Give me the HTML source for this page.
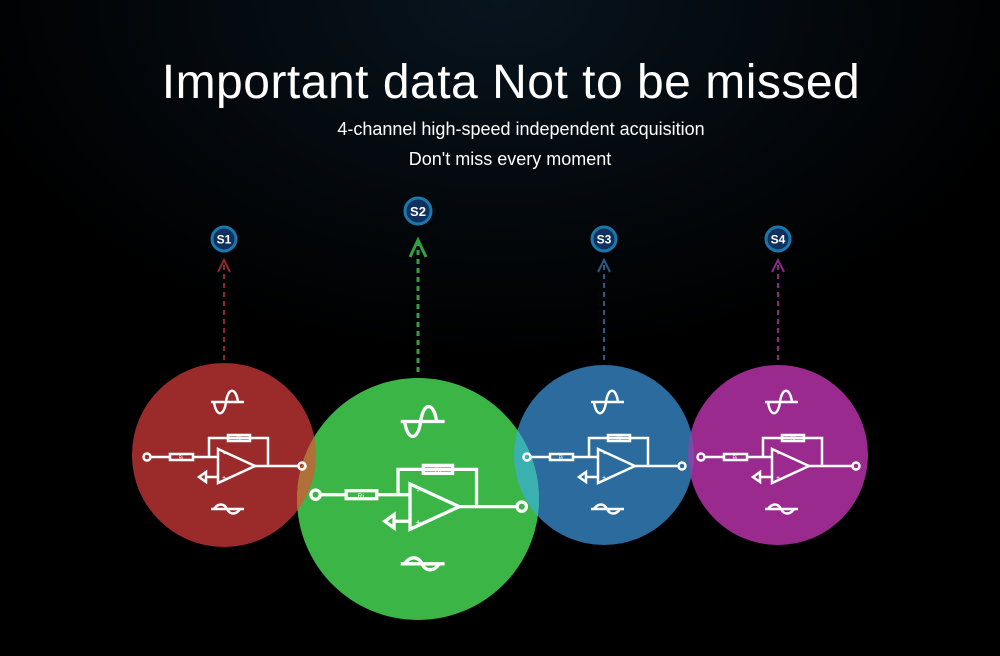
<!DOCTYPE html>
<html><head><style>
body{margin:0;background:#000;width:1000px;height:651px;overflow:hidden;font-family:"Liberation Sans",sans-serif;}
</style></head><body>
<svg width="1000" height="651" viewBox="0 0 1000 651" xmlns="http://www.w3.org/2000/svg">
<defs>
<radialGradient id="bg" cx="0.5" cy="0" r="0.55"><stop offset="0" stop-color="#08141e"/><stop offset="1" stop-color="#000"/></radialGradient>
<g id="ckt" fill="none" stroke="#fff" stroke-width="2.5">
  <path d="M-13,-53 h33"/>
  <path d="M-10,-53 C-8,-38 0,-38 2,-53 C4,-68 12,-68 14,-53"/>
  <path d="M-73,2 H-54 M-31,2 H-15 V-17 H44 V11 M-15,-17 V2 H-6"/>
  <rect x="-54" y="-1" width="23" height="6"/>
  <rect x="4" y="-20" width="22" height="6"/>
  <path d="M-6,-6 L31,11 L-6,28 Z"/>
  <path d="M31,11 H74"/>
  <circle cx="-77" cy="2" r="3.5"/>
  <circle cx="78" cy="11" r="3.5"/>
  <path d="M-6,22 H-18"/>
  <path d="M-18,17 L-25,22 L-18,27 Z"/>
  <path d="M-13,54 h33"/>
  <path d="M-10,54 C-6,48 0,48 3,54 C6,60 12,60 16,54"/>
  <text x="-43" y="4.5" font-size="5" fill="#fff" stroke="none" text-anchor="middle">Ri</text>
  <text x="15" y="-15" font-size="5" fill="#fff" stroke="none" text-anchor="middle">Rf</text>
  <text x="-1" y="1" font-size="7" fill="#fff" stroke="none">-</text>
  <text x="-2" y="25" font-size="7" fill="#fff" stroke="none">+</text>
</g>
</defs>
<rect width="1000" height="651" fill="url(#bg)"/>
<text x="511" y="98" font-size="48" fill="#fff" text-anchor="middle" letter-spacing="0.5">Important data Not to be missed</text>
<text x="521" y="135" font-size="18" fill="#fff" text-anchor="middle">4-channel high-speed independent acquisition</text>
<text x="510" y="165" font-size="18" fill="#fff" text-anchor="middle">Don't miss every moment</text>

<g stroke-width="2" stroke-dasharray="5,4" fill="none">
<path d="M224,360 V262" stroke="#8c2a2a"/><path d="M218,272 L224,260 L230,272" stroke="#8c2a2a" stroke-dasharray="none"/>
<path d="M418,372 V244" stroke="#36a040" stroke-width="3"/><path d="M410,257 L418,240 L426,257" stroke="#36a040" stroke-width="3" stroke-dasharray="none"/>
<path d="M604,360 V262" stroke="#2a5a80"/><path d="M598,272 L604,260 L610,272" stroke="#2a5a80" stroke-dasharray="none"/>
<path d="M778,360 V262" stroke="#8a2a80"/><path d="M772,272 L778,260 L784,272" stroke="#8a2a80" stroke-dasharray="none"/>
</g>

<g font-size="12" font-weight="bold" fill="#fff" text-anchor="middle">
<circle cx="224" cy="239" r="12" fill="#10305e" stroke="#1b78ad" stroke-width="3"/><text x="224" y="243.5">S1</text>
<circle cx="418" cy="211" r="13" fill="#10305e" stroke="#1b78ad" stroke-width="3"/><text x="418" y="216" font-size="13">S2</text>
<circle cx="604" cy="239" r="12" fill="#10305e" stroke="#1b78ad" stroke-width="3"/><text x="604" y="243.5">S3</text>
<circle cx="778" cy="239" r="12" fill="#10305e" stroke="#1b78ad" stroke-width="3"/><text x="778" y="243.5">S4</text>
</g>

<circle cx="224" cy="455" r="92" fill="#9b2b2b"/>
<circle cx="778" cy="455" r="90" fill="#9a2a8e"/>
<circle cx="604" cy="455" r="90" fill="#2b6b9e"/>
<circle cx="418" cy="499" r="121" fill="#3cb547"/>
<g>
<clipPath id="cr"><circle cx="224" cy="455" r="92"/></clipPath>
<circle cx="418" cy="499" r="121" fill="#b07038" clip-path="url(#cr)"/>
<clipPath id="cb"><circle cx="604" cy="455" r="90"/></clipPath>
<circle cx="418" cy="499" r="121" fill="#3ab0b0" clip-path="url(#cb)"/>
<clipPath id="cm"><circle cx="778" cy="455" r="90"/></clipPath>
<circle cx="604" cy="455" r="90" fill="#7a4aa8" clip-path="url(#cm)"/>
</g>

<use href="#ckt" transform="translate(224,455)"/>
<use href="#ckt" transform="translate(418,492) scale(1.33)"/>
<use href="#ckt" transform="translate(604,455)"/>
<use href="#ckt" transform="translate(778,455)"/>
</svg>
</body></html>
